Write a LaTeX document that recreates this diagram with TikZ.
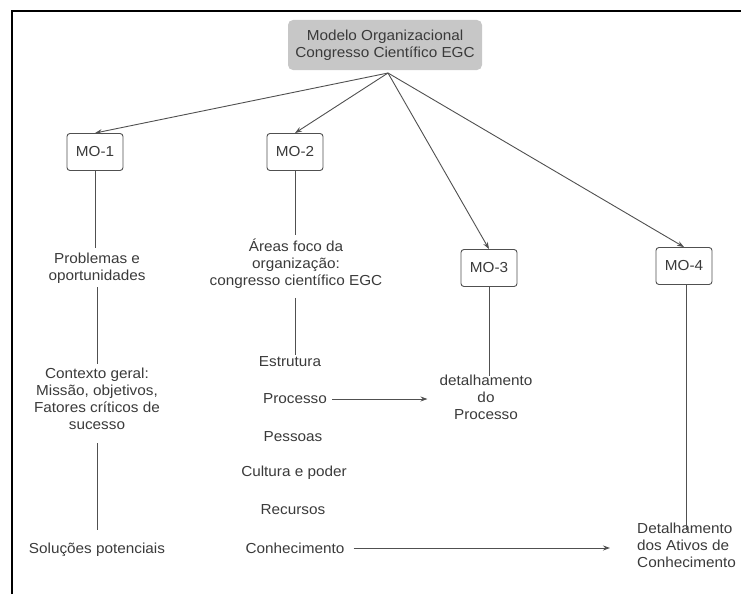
\documentclass[tikz,border=0pt]{standalone}
\usepackage{fontspec}
\setmainfont{Liberation Sans}[FakeStretch=1.055]
\usetikzlibrary{arrows.meta}
\definecolor{txt}{HTML}{3A3A3A}
\definecolor{ln}{HTML}{505050}
\begin{document}
\begin{tikzpicture}[x=1pt,y=-1pt,
  every node/.style={font=\fontsize{14.5}{17}\selectfont, text=txt, inner sep=1pt},
  mobox/.style={draw=ln, line width=0.9pt, rounded corners=3pt, minimum width=56pt, minimum height=37pt, inner sep=2pt},
  topbox/.style={fill=black!22, rounded corners=5pt, minimum width=194pt, minimum height=50pt, align=center},
  lbl/.style={align=center},
  conn/.style={draw=ln, line width=0.9pt},
  arr/.style={conn, -{Stealth[length=7pt,width=5pt]}}]
\useasboundingbox (0,0) rectangle (741,594);
\draw[line width=2pt] (12,594) -- (12,11) -- (741,11);

\node[topbox] (top) at (385,45) {Modelo Organizacional\\Congresso Científico EGC};
\coordinate (hub) at (388,73);

\node[mobox] (mo1) at (95,152) {MO-1};
\node[mobox] (mo2) at (295,152) {MO-2};
\node[mobox] (mo3) at (489,268) {MO-3};
\node[mobox] (mo4) at (684,266) {MO-4};

\draw[arr] (hub) -- (mo1.north);
\draw[arr] (hub) -- (mo2.north);
\draw[arr] (hub) -- (mo3.north);
\draw[arr] (hub) -- (mo4.north);

% column 1
\node[lbl] (prob) at (97,268) {Problemas e\\oportunidades};
\node[lbl] (ctx) at (97,399) {Contexto geral:\\Missão, objetivos,\\Fatores críticos de\\sucesso};
\node[lbl] (sol) at (97,550) {Soluções potenciais};
\draw[conn] (mo1.south) -- ([yshift=4pt]prob.north -| mo1.south);
\draw[conn] ([yshift=-3pt]prob.south) -- ([yshift=3pt]ctx.north);
\draw[conn] ([yshift=-12pt]ctx.south) -- ([yshift=12pt]sol.north);

% column 2
\node[lbl] (areas) at (296,264) {Áreas foco da\\organização:\\congresso científico EGC};
\node (estr) at (290,362) {Estrutura};
\node (proc) at (295,399) {Processo};
\node (pess) at (293,437) {Pessoas};
\node (cult) at (294,473) {Cultura e poder};
\node (rec) at (293,510) {Recursos};
\node (conh) at (295,548) {Conhecimento};
\draw[conn] (mo2.south) -- ([yshift=3pt]areas.north -| mo2.south);
\draw[conn] ([yshift=-8pt]areas.south -| mo2.south) -- ([yshift=1pt]estr.north -| mo2.south);

% column 3
\node[lbl] (det) at (486,397) {detalhamento\\do\\Processo};
\draw[conn] (mo3.south) -- ([yshift=-3pt]det.north -| mo3.south);
\draw[arr] ([xshift=4pt]proc.east) -- ([xshift=-11pt]det.west |- proc.east);

% column 4
\node[align=left, anchor=west] (ativ) at (636,545) {Detalhamento\\dos Ativos de\\Conhecimento};
\coordinate (mo4end) at (686,530);
\draw[conn] (mo4.south -| mo4end) -- (mo4end);
\draw[arr] ([xshift=8pt]conh.east) -- ([xshift=-26pt]ativ.west |- conh.east);
\end{tikzpicture}
\end{document}
